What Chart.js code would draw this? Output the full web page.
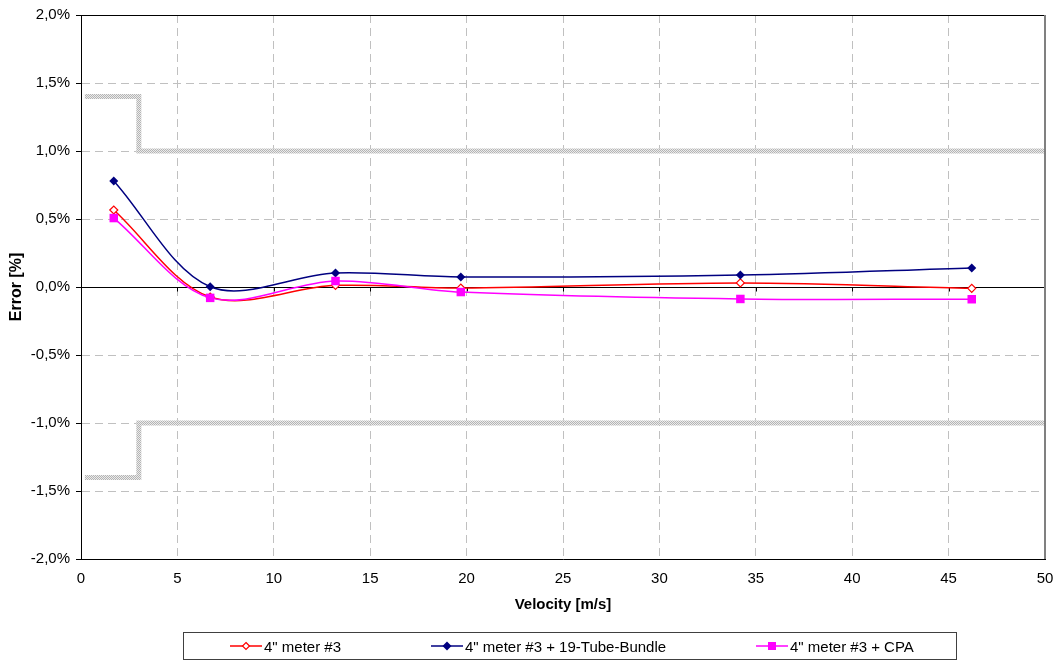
<!DOCTYPE html>
<html>
<head>
<meta charset="utf-8">
<script src="https://cdn.jsdelivr.net/npm/chart.js@4.4.1/dist/chart.umd.min.js"></script>
<style>
  html, body { margin: 0; padding: 0; background: #fff; }
  #wrap { position: relative; width: 1056px; height: 662px; }
  #c { position: absolute; left: 0; top: 0; }
  #legend {
    position: absolute; left: 183px; top: 632px; width: 772px; height: 26px;
    border: 1px solid #404040; font-family: "Liberation Sans", Arial, sans-serif;
    font-size: 15px; color: #000;
  }
  .item { position: absolute; top: 0; height: 26px; display: flex; align-items: center; white-space: nowrap; }
  .item svg { margin-right: 2px; }
</style>
</head>
<body>
<div id="wrap">
  <canvas id="c" width="1056" height="662"></canvas>
  <div id="legend"></div>
</div>
<script>
// Measured flow velocities [m/s]
const velocity = [1.7, 6.7, 13.2, 19.7, 34.2, 46.2];

// Error of each configuration [%]
const errMeter3 = [0.566, -0.074, 0.012, -0.008, 0.030, -0.010];
const errTubeBundle = [0.780, 0.002, 0.103, 0.074, 0.088, 0.140];
const errCPA = [0.507, -0.080, 0.044, -0.037, -0.088, -0.090];

const seriesNames = ['4" meter #3', '4" meter #3 + 19-Tube-Bundle', '4" meter #3 + CPA'];

// Tolerance limits (step at 3 m/s)
const limitX = [0.2, 3, 3, 50];
const limitUpper = [1.4, 1.4, 1.0, 1.0];
const limitLower = [-1.4, -1.4, -1.0, -1.0];

const yTicks = [-2.0, -1.5, -1.0, -0.5, 0.0, 0.5, 1.0, 1.5, 2.0];
const xTicks = [0, 5, 10, 15, 20, 25, 30, 35, 40, 45, 50];

const FONT = '"Liberation Sans", Arial, sans-serif';

function pts(xs, ys) { return xs.map((x, i) => ({ x: x, y: ys[i] })); }

// Dotted grey fill used for the limit band
function limitPattern() {
  const p = document.createElement('canvas');
  p.width = 2; p.height = 2;
  const g = p.getContext('2d');
  g.fillStyle = '#ebebeb'; g.fillRect(0, 0, 2, 2);
  g.fillStyle = '#b4b4b4'; g.fillRect(0, 0, 1, 1); g.fillRect(1, 1, 1, 1);
  return g.createPattern(p, 'repeat');
}

const ctx = document.getElementById('c').getContext('2d');
const pat = limitPattern();

// Zero line with tick marks, plus the top and right frame
const framePlugin = {
  id: 'frame',
  beforeDatasetsDraw(chart) {
    const { ctx, chartArea: a, scales: { x, y } } = chart;
    const y0 = Math.round(y.getPixelForValue(0)) + 0.5;
    ctx.save();
    ctx.strokeStyle = '#000'; ctx.lineWidth = 1;
    ctx.beginPath();
    ctx.moveTo(a.left, y0); ctx.lineTo(a.right, y0);
    xTicks.forEach(v => {
      const px = Math.round(x.getPixelForValue(v)) + 0.5;
      ctx.moveTo(px, y0); ctx.lineTo(px, y0 + 4);
    });
    ctx.stroke();
    ctx.restore();
  },
  afterDraw(chart) {
    const { ctx, chartArea: a } = chart;
    ctx.save();
    ctx.lineWidth = 1;
    ctx.strokeStyle = '#000';
    ctx.beginPath();
    ctx.moveTo(a.left, Math.round(a.top) + 0.5); ctx.lineTo(a.right, Math.round(a.top) + 0.5);
    ctx.stroke();
    ctx.strokeStyle = '#808080';
    ctx.lineWidth = 2;
    ctx.beginPath();
    ctx.moveTo(Math.round(a.right), a.top); ctx.lineTo(Math.round(a.right), a.bottom);
    ctx.stroke();
    ctx.restore();
  }
};

new Chart(ctx, {
  type: 'line',
  data: {
    datasets: [
      {
        label: seriesNames[2], data: pts(velocity, errCPA),
        borderColor: '#ff00ff', backgroundColor: '#ff00ff', borderWidth: 1.5,
        pointStyle: 'rect', pointRadius: 6, pointBorderWidth: 0, tension: 0.33
      },
      {
        label: seriesNames[1], data: pts(velocity, errTubeBundle),
        borderColor: '#000080', backgroundColor: '#000080', borderWidth: 1.5,
        pointStyle: 'rectRot', pointRadius: 4.5, pointBorderWidth: 0, tension: 0.33
      },
      {
        label: seriesNames[0], data: pts(velocity, errMeter3),
        borderColor: '#ff0000', backgroundColor: '#ffffff', borderWidth: 1.5,
        pointStyle: 'rectRot', pointRadius: 4, pointBorderWidth: 1.2,
        pointBorderColor: '#ff0000', tension: 0.33
      },
      {
        label: 'upper', data: pts(limitX, limitUpper),
        borderColor: pat, borderWidth: 5, pointRadius: 0, tension: 0,
        borderJoinStyle: 'miter', borderCapStyle: 'butt'
      },
      {
        label: 'lower', data: pts(limitX, limitLower),
        borderColor: pat, borderWidth: 5, pointRadius: 0, tension: 0,
        borderJoinStyle: 'miter', borderCapStyle: 'butt'
      }
    ]
  },
  options: {
    responsive: false,
    animation: false,
    events: [],
    layout: { padding: { top: 15, right: 0, left: 0, bottom: 48 } },
    plugins: { legend: { display: false }, tooltip: { enabled: false } },
    scales: {
      x: {
        type: 'linear', min: 0, max: 50,
        afterBuildTicks(s) { s.ticks = xTicks.map(v => ({ value: v })); },
        afterFit(s) { s.height = 55; s.paddingRight = 11; },
        grid: { color: '#c0c0c0', lineWidth: 1, drawTicks: false },
        border: { display: true, color: '#000', width: 1, dash: [8, 5] },
        ticks: {
          padding: 11, color: '#000', maxRotation: 0,
          font: { family: FONT, size: 15 },
          callback: v => String(v)
        },
        title: {
          display: true, text: 'Velocity [m/s]', color: '#000',
          font: { family: FONT, size: 15, weight: 'bold' }, padding: { top: 4, bottom: 0 }
        }
      },
      y: {
        type: 'linear', min: -2, max: 2,
        afterBuildTicks(s) { s.ticks = yTicks.map(v => ({ value: v })); },
        afterFit(s) { s.width = 81; },
        grid: { color: '#c0c0c0', lineWidth: 1, tickLength: 5, tickColor: '#000' },
        border: { display: true, color: '#000', width: 1, dash: [8, 5] },
        ticks: {
          padding: 6, color: '#000',
          font: { family: FONT, size: 15 },
          callback: v => v.toFixed(1).replace('.', ',') + '%'
        },
        title: {
          display: true, text: 'Error [%]', color: '#000',
          font: { family: FONT, size: 16, weight: 'bold' }, padding: { top: 7, bottom: 0 }
        }
      }
    }
  },
  plugins: [framePlugin]
});

// Legend: line with marker, then the series name
const legendItems = [
  { name: seriesNames[0], color: '#ff0000', marker: 'openDiamond', left: 46 },
  { name: seriesNames[1], color: '#000080', marker: 'diamond', left: 247 },
  { name: seriesNames[2], color: '#ff00ff', marker: 'square', left: 572 }
];
const legend = document.getElementById('legend');
legendItems.forEach(it => {
  let m = '';
  if (it.marker === 'openDiamond') m = `<polygon points="16,3.5 19.5,7 16,10.5 12.5,7" fill="#fff" stroke="${it.color}" stroke-width="1.2"/>`;
  if (it.marker === 'diamond') m = `<polygon points="16,2.5 20.5,7 16,11.5 11.5,7" fill="${it.color}"/>`;
  if (it.marker === 'square') m = `<rect x="12" y="3" width="8" height="8" fill="${it.color}"/>`;
  const d = document.createElement('div');
  d.className = 'item';
  d.style.left = it.left + 'px';
  d.innerHTML = `<svg width="32" height="14"><line x1="0" y1="7" x2="32" y2="7" stroke="${it.color}" stroke-width="1.5"/>${m}</svg><span>${it.name}</span>`;
  legend.appendChild(d);
});
</script>
</body>
</html>
